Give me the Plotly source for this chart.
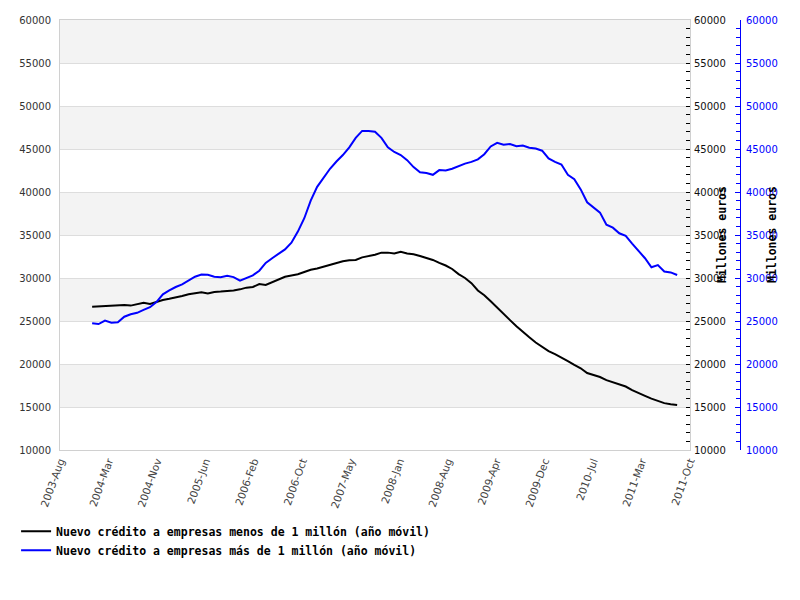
import plotly.graph_objects as go

# ---------------- data ----------------
month_names = ["Jan", "Feb", "Mar", "Apr", "May", "Jun",
               "Jul", "Aug", "Sep", "Oct", "Nov", "Dec"]
months = [f"{y}-{month_names[m]}" for y in range(2004, 2012) for m in range(12)][:92]  # 2004-Jan .. 2011-Aug

tick_labels = ["2003-Aug", "2004-Mar", "2004-Nov", "2005-Jun", "2006-Feb", "2006-Oct",
               "2007-May", "2008-Jan", "2008-Aug", "2009-Apr", "2009-Dec", "2010-Jul",
               "2011-Mar", "2011-Oct"]

credito_menos_1m = [
    26650, 26680, 26720, 26760, 26800, 26850, 26790, 26950, 27130, 26980,
    27250, 27450, 27580, 27720, 27900, 28120, 28250, 28330, 28200, 28380,
    28420, 28450, 28550, 28680, 28880, 28950, 29300, 29200, 29500, 29800,
    30150, 30300, 30430, 30700, 30950, 31100, 31300, 31550, 31750, 31950,
    32050, 32100, 32400, 32550, 32700, 32950, 32950, 32850, 33050, 32850,
    32750, 32560, 32350, 32100, 31750, 31450, 31050, 30450, 30000, 29400,
    28550, 28000, 27300, 26600, 25850, 25100, 24380, 23700, 23100, 22500,
    21950, 21500, 21140, 20770, 20340, 19900, 19500, 18950, 18740, 18490,
    18130, 17850, 17620, 17380, 16970, 16590, 16300, 15980, 15680, 15450,
    15320, 15230,
]

credito_mas_1m = [
    24750, 24650, 25050, 24800, 24850, 25500, 25780, 25950, 26300, 26600,
    27200, 28100, 28550, 28950, 29250, 29700, 30150, 30400, 30380, 30150,
    30100, 30270, 30100, 29700, 30000, 30300, 30850, 31750, 32300, 32800,
    33330, 34100, 35400, 36950, 39000, 40600, 41700, 42700, 43550, 44300,
    45200, 46300, 47100, 47100, 47000, 46300, 45200, 44650, 44300, 43700,
    42900, 42300, 42200, 42000, 42550, 42500, 42700, 43000, 43300, 43500,
    43800, 44400, 45300, 45720, 45500, 45580, 45320, 45400, 45150, 45050,
    44800, 43900, 43500, 43200, 42000, 41500, 40300, 38800, 38250, 37600,
    36200, 35850, 35200, 34900, 34000, 33100, 32300, 31250, 31500, 30750,
    30650, 30350,
]

Y_MIN, Y_MAX, Y_STEP = 10000, 60000, 5000


def month_index(label):
    y, m = label.split("-")
    return (int(y) - 2003) * 12 + month_names.index(m) - 7  # months since 2003-Aug


x_vals = [month_index(m) for m in months]
x_end = month_index("2011-Oct")
tick_pos = [i * x_end / (len(tick_labels) - 1) for i in range(len(tick_labels))]

# ---------------- figure ----------------
fig = go.Figure()
fig.add_trace(go.Scatter(
    x=x_vals, y=credito_menos_1m, mode="lines", yaxis="y2",
    name="<b>Nuevo crédito a empresas menos de 1 millón (año móvil)</b>",
    line=dict(color="#000000", width=2)))
fig.add_trace(go.Scatter(
    x=x_vals, y=credito_mas_1m, mode="lines", yaxis="y3",
    name="<b>Nuevo crédito a empresas más de 1 millón (año móvil)</b>",
    line=dict(color="#0000ff", width=2)))

# alternating background bands
shapes = []
for i, lo in enumerate(range(Y_MIN, Y_MAX, Y_STEP)):
    if i % 2 == 1:
        shapes.append(dict(type="rect", xref="x domain", yref="y", x0=0, x1=1,
                           y0=lo, y1=lo + Y_STEP, fillcolor="#f3f3f3",
                           line=dict(width=0), layer="below"))

tick_font = dict(family="DejaVu Sans", size=10)
dom_end = 630 / 720
fig.update_layout(
    width=800, height=600,
    margin=dict(l=60, r=20, t=20, b=150, autoexpand=False),
    paper_bgcolor="white", plot_bgcolor="white",
    shapes=shapes,
    showlegend=True,
    legend=dict(x=-0.061, y=-0.155, xanchor="left", yanchor="top",
                font=dict(family="DejaVu Sans Mono", size=11.5, color="#000"),
                itemwidth=30, tracegroupgap=0, bgcolor="rgba(0,0,0,0)"),
    xaxis=dict(domain=[0, dom_end], range=[0, x_end], tickmode="array",
               tickvals=tick_pos, ticktext=tick_labels, tickangle=-70,
               tickfont=dict(family="DejaVu Sans", size=10.5, color="#444"),
               showgrid=False, zeroline=False, showline=True, mirror=True,
               linecolor="#d0d0d0", linewidth=1, ticks="", automargin=False),
    yaxis=dict(range=[Y_MIN, Y_MAX], dtick=Y_STEP, tickformat="d",
               tickfont=dict(tick_font, color="#333"),
               showgrid=True, gridcolor="#dddddd", gridwidth=1, zeroline=False,
               showline=True, mirror=True, linecolor="#d0d0d0", ticks="",
               ticklabelstandoff=6, automargin=False),
    yaxis2=dict(range=[Y_MIN, Y_MAX], dtick=Y_STEP, tickformat="d",
                overlaying="y", side="right", anchor="free", position=dom_end,
                tickfont=dict(tick_font, color="#111"),
                showgrid=False, zeroline=False, showline=False,
                ticks="inside", ticklen=4, tickcolor="#000",
                minor=dict(dtick=1000, ticks="inside", ticklen=4, tickcolor="#000"),
                ticklabelstandoff=3, automargin=False),
    yaxis3=dict(range=[Y_MIN, Y_MAX], dtick=Y_STEP, tickformat="d",
                overlaying="y", side="right", anchor="free", position=(740 - 60) / 720,
                tickfont=dict(tick_font, color="#0000ff"),
                showgrid=False, zeroline=False, showline=True, linecolor="#0000ff",
                ticks="inside", ticklen=5, tickcolor="#0000ff",
                minor=dict(dtick=1000, ticks="inside", ticklen=4, tickcolor="#0000ff"),
                ticklabelstandoff=3, automargin=False),
    annotations=[
        dict(text="<b>Millones euros</b>", x=(722 - 60) / 720, y=0.5,
             xref="paper", yref="paper", textangle=-90, showarrow=False,
             xanchor="center", yanchor="middle",
             font=dict(family="DejaVu Sans Mono", size=11.5, color="#000")),
        dict(text="<b>Millones euros</b>", x=(772 - 60) / 720, y=0.5,
             xref="paper", yref="paper", textangle=-90, showarrow=False,
             xanchor="center", yanchor="middle",
             font=dict(family="DejaVu Sans Mono", size=11.5, color="#000")),
    ],
)

fig.write_html("out.html", config={"displayModeBar": False},
               post_script="document.body.style.margin='0';document.body.style.overflow='hidden';")
